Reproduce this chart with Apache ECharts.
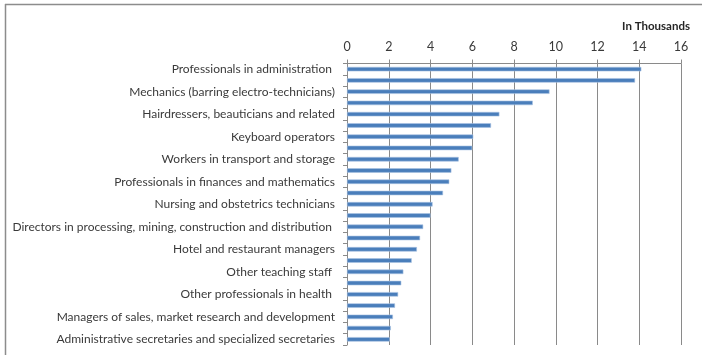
<!DOCTYPE html>
<html>
<head>
<meta charset="utf-8">
<script src="https://cdn.jsdelivr.net/npm/echarts@6/dist/echarts.min.js"></script>
<style>
  html, body { margin: 0; padding: 0; background: #fff; }
  #chart { width: 702px; height: 355px; }
</style>
</head>
<body>
<div id="chart"></div>
<script>
// Occupations, top to bottom; only every second one carries a printed label
const labeledOccupations = [
  'Professionals in administration ',
  'Mechanics (barring electro-technicians)',
  'Hairdressers, beauticians and related',
  'Keyboard operators',
  'Workers in transport and storage',
  'Professionals in finances and mathematics',
  'Nursing and obstetrics technicians',
  'Directors in processing, mining, construction and distribution ',
  'Hotel and restaurant managers',
  'Other teaching staff ',
  'Other professionals in health ',
  'Managers of sales, market research and development',
  'Administrative secretaries and specialized secretaries'
];

// Values in thousands, one per bar, top to bottom
const valuesThousands = [
  14.1, 13.8, 9.7, 8.9, 7.3, 6.9, 6.05, 6.0,
  5.35, 5.0, 4.9, 4.6, 4.1, 4.0, 3.65, 3.5,
  3.35, 3.1, 2.7, 2.6, 2.45, 2.3, 2.2, 2.1, 2.05
];

const valueTicks = [0, 2, 4, 6, 8, 10, 12, 14, 16];

// Category list: labeled rows alternate with unlabeled ones
const categories = valuesThousands.map((v, i) => (i % 2 === 0 ? labeledOccupations[i / 2] : ''));

const chart = echarts.init(document.getElementById('chart'), null, { renderer: 'canvas' });
const gridColor = '#8a8a8a';
const textColor = '#3a3a3a';
const fontFamily = 'Lato, "Open Sans", sans-serif';

chart.setOption({
  animation: false,
  backgroundColor: '#ffffff',
  grid: { left: 347, right: 21, top: 63.5, bottom: 10, containLabel: false },
  xAxis: {
    type: 'value',
    position: 'top',
    min: valueTicks[0],
    max: valueTicks[valueTicks.length - 1],
    interval: valueTicks[1] - valueTicks[0],
    axisLine: { show: true, lineStyle: { color: gridColor, width: 1 } },
    axisTick: { show: true, length: 4, lineStyle: { color: gridColor } },
    splitLine: { show: true, lineStyle: { color: gridColor, width: 1 } },
    axisLabel: { color: textColor, fontSize: 12.5, fontFamily: fontFamily, margin: 10 }
  },
  yAxis: {
    type: 'category',
    inverse: true,
    data: categories,
    boundaryGap: true,
    axisLine: { show: true, lineStyle: { color: gridColor, width: 1 } },
    axisTick: { show: true, interval: 0, length: 4, lineStyle: { color: gridColor } },
    axisLabel: { interval: 0, color: textColor, fontSize: 12, fontFamily: fontFamily, margin: 12 }
  },
  series: [{
    type: 'bar',
    data: valuesThousands,
    barWidth: 4.5,
    itemStyle: { color: '#4a7ebb', borderColor: '#a9c3e3', borderWidth: 0.6 }
  }],
  graphic: [
    {
      type: 'text',
      right: 12,
      top: 20,
      style: { text: 'In Thousands', fill: '#262626', font: 'bold 11.5px ' + fontFamily, textAlign: 'right' }
    },
    {
      type: 'line',
      shape: { x1: 5, y1: 4.5, x2: 702, y2: 4.5 },
      style: { stroke: '#8c8c8c', lineWidth: 1.5 }
    },
    {
      type: 'line',
      shape: { x1: 5.5, y1: 4, x2: 5.5, y2: 355 },
      style: { stroke: '#8c8c8c', lineWidth: 1.5 }
    }
  ]
});
</script>
</body>
</html>
